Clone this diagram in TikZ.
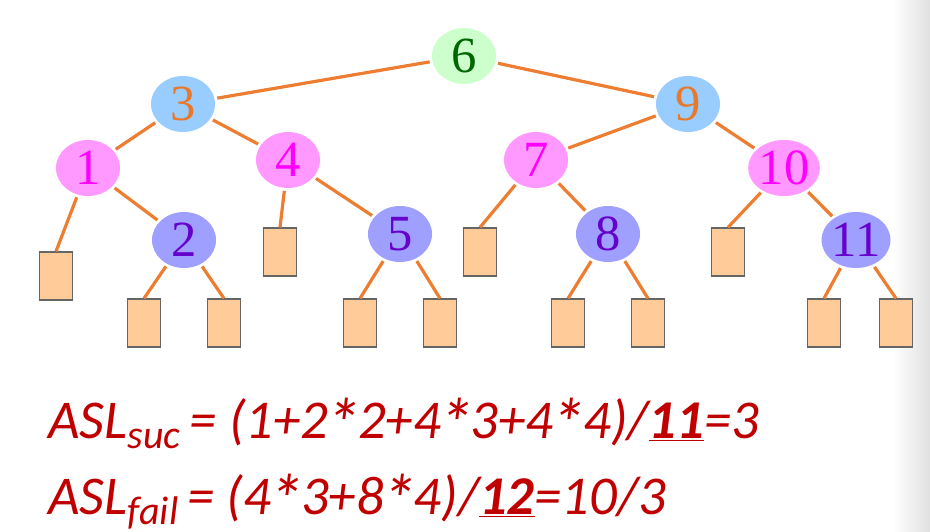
\documentclass[tikz,border=0pt]{standalone}
\usepackage{fontspec}
\usepackage{graphicx}
\usetikzlibrary{shapes.geometric}
\newfontfamily\numfont{Liberation Serif}
\newfontfamily\formfont{Carlito}
\newcommand\bigstar{\kern-0.05em\raisebox{-0.2em}{\scalebox{1.3}{*}}\kern-0.05em}
\definecolor{edgeor}{HTML}{ED7D31}
\definecolor{gfill}{HTML}{CCFFCC}
\definecolor{gtext}{HTML}{006600}
\definecolor{bfill}{HTML}{99CCFF}
\definecolor{btext}{HTML}{E8782A}
\definecolor{pfill}{HTML}{FF99FF}
\definecolor{ptext}{HTML}{FF00FF}
\definecolor{vfill}{HTML}{9F9FFF}
\definecolor{vtext}{HTML}{6600CC}
\definecolor{leaffill}{HTML}{FFCC99}
\definecolor{leafdraw}{HTML}{666666}
\definecolor{formred}{HTML}{C00000}
\tikzset{
  keynode/.style={ellipse, minimum width=48pt, minimum height=42pt, inner sep=0pt,
    font=\numfont\fontsize{38}{38}\selectfont},
  gnode/.style={keynode, fill=gfill, text=gtext},
  bnode/.style={keynode, fill=bfill, text=btext},
  pnode/.style={keynode, fill=pfill, text=ptext},
  vnode/.style={keynode, fill=vfill, text=vtext},
  leafbox/.style={rectangle, minimum width=24.75pt, minimum height=36pt, inner sep=0pt,
    fill=leaffill, draw=leafdraw, line width=0.9pt},
  edgeline/.style={draw=edgeor, line width=2.4pt, shorten <=2pt, shorten >=2pt},
  leafline/.style={draw=edgeor, line width=2.4pt, shorten <=2pt},
  formula/.style={anchor=base west, inner sep=0pt, text=formred,
    font=\formfont\itshape\fontsize{41}{41}\selectfont}
}
\begin{document}
\begin{tikzpicture}[x=0.75pt, y=-0.75pt]
\useasboundingbox (0,0) rectangle (930,531);
\shade[left color=white, right color=black!12, draw=none] (893,0) rectangle (930,531);
% internal nodes
\node[gnode] (n6) at (464,56) {6};
\node[bnode] (n3) at (183,104) {3};
\node[bnode] (n9) at (688,104) {9};
\node[pnode] (n1) at (88,168) {1};
\node[pnode] (n4) at (288,160) {4};
\node[pnode] (n7) at (536,160) {7};
\node[pnode] (n10) at (784,168) {10};
\node[vnode] (n2) at (184,240) {2};
\node[vnode] (n5) at (400,234) {5};
\node[vnode] (n8) at (608,234) {8};
\node[vnode] (n11) at (856,240) {11};
% leaves
\node[leafbox] (l1) at (56,276) {};
\node[leafbox] (l2a) at (144,323) {};
\node[leafbox] (l2b) at (224,323) {};
\node[leafbox] (l4) at (280,252) {};
\node[leafbox] (l5a) at (360,323) {};
\node[leafbox] (l5b) at (440,323) {};
\node[leafbox] (l7) at (480,252) {};
\node[leafbox] (l8a) at (568,323) {};
\node[leafbox] (l8b) at (648,323) {};
\node[leafbox] (l10) at (728,252) {};
\node[leafbox] (l11a) at (824,323) {};
\node[leafbox] (l11b) at (896,323) {};
% edges
\draw[edgeline] (n6) -- (n3);
\draw[edgeline] (n6) -- (n9);
\draw[edgeline] (n3) -- (n1);
\draw[edgeline] (n3) -- (n4);
\draw[edgeline] (n9) -- (n7);
\draw[edgeline] (n9) -- (n10);
\draw[edgeline] (n1) -- (n2);
\draw[edgeline] (n4) -- (n5);
\draw[edgeline] (n7) -- (n8);
\draw[edgeline] (n10) -- (n11);
\draw[leafline] (n1) -- (l1.north);
\draw[leafline] (n2) -- (l2a.north);
\draw[leafline] (n2) -- (l2b.north);
\draw[leafline] (n4) -- (l4.north);
\draw[leafline] (n5) -- (l5a.north);
\draw[leafline] (n5) -- (l5b.north);
\draw[leafline] (n7) -- (l7.north);
\draw[leafline] (n8) -- (l8a.north);
\draw[leafline] (n8) -- (l8b.north);
\draw[leafline] (n10) -- (l10.north);
\draw[leafline] (n11) -- (l11a.north);
\draw[leafline] (n11) -- (l11b.north);
% formulas
\node[formula] (f1) at (48,438) {ASL\raisebox{-0.2em}{\fontsize{30}{30}\selectfont suc}\,= (1+2\bigstar2+4\bigstar3+4\bigstar4)/\underline{\textbf{11}}=3};
\node[formula] (f2) at (48,514) {ASL\raisebox{-0.2em}{\fontsize{30}{30}\selectfont fail}\,= (4\bigstar3+8\bigstar4)/\underline{\textbf{12}}=10/3};
\end{tikzpicture}
\end{document}
